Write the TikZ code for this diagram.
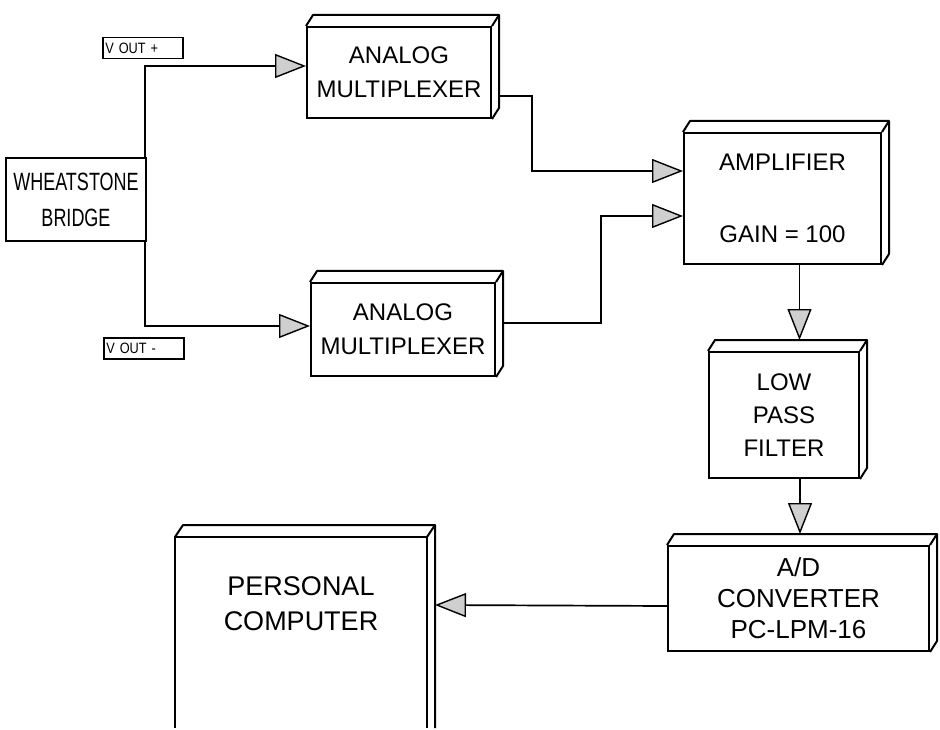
\documentclass[tikz,border=0pt]{standalone}
\usepackage{fontspec}
\setmainfont{Liberation Sans}
\newfontfamily\narrowsans[FakeStretch=0.72]{Liberation Sans}
\newfontfamily\lblsans[FakeStretch=0.85]{Liberation Sans}
\usetikzlibrary{arrows.meta,calc}
\newcommand{\boxfaces}[1]{%
  \draw[boxline] (#1.north west) -- ++(7,-11) -- ($(#1.north east)+(7,-11)$) -- ($(#1.south east)+(7,-11)$) -- (#1.south east);
  \draw[boxline] (#1.north east) -- ++(7,-11);}
\begin{document}
\begin{tikzpicture}[x=1pt,y=-1pt,
  boxline/.style={line width=2pt,line join=round},
  box/.style={draw,line width=2pt,anchor=north west,inner sep=0pt,align=center,font=\fontsize{24}{34}\selectfont},
  lbl/.style={draw,line width=1.5pt,anchor=north west,minimum height=21pt,text width=75pt,inner xsep=2.5pt,inner ysep=0pt,align=left,font=\lblsans\fontsize{15}{17}\selectfont},
  conn/.style={line width=1.7pt,-{Triangle[length=31pt,width=24pt,fill=gray!38,line width=1.4pt]}},
  wire/.style={line width=1.7pt}]
\useasboundingbox (0,0) rectangle (940,730);

% small labels
\node[lbl] (vp) at (102,37) {V OUT +};
\node[lbl] (vm) at (103,337) {V OUT -};

% bridge
\node[box,font=\narrowsans\fontsize{25}{36}\selectfont,minimum width=140pt,minimum height=83pt] (bridge) at (5,157) {WHEATSTONE\\BRIDGE};

% multiplexers
\node[box,minimum width=184pt,minimum height=91pt] (mux1) at (306,26) {ANALOG\\MULTIPLEXER};
\boxfaces{mux1}
\node[box,minimum width=184pt,minimum height=93pt] (mux2) at (310,282) {ANALOG\\MULTIPLEXER};
\boxfaces{mux2}

% amplifier
\node[box,minimum width=197pt,minimum height=131pt] (amp) at (683,132) {AMPLIFIER\\[38pt]GAIN = 100};
\boxfaces{amp}

% low pass filter
\node[box,font=\fontsize{24}{33}\selectfont,minimum width=150pt,minimum height=126pt] (lpf) at (708,351) {LOW\\PASS\\FILTER};
\boxfaces{lpf}

% A/D converter
\node[box,font=\fontsize{26}{31}\selectfont,minimum width=261pt,minimum height=105pt] (ad) at (667,545) {A/D\\CONVERTER\\PC-LPM-16};
\boxfaces{ad}

% personal computer (open at the bottom)
\coordinate (pcnw) at (175,537);
\coordinate (pcne) at (427,537);
\coordinate (pcsw) at (175,728);
\coordinate (pcse) at (427,728);
\coordinate (pcbse) at (435,728);
\draw[boxline] (pcsw) -- (pcnw) -- (pcne) -- (pcse);
\draw[boxline] (pcnw) -- ++(8,-12) -- ($(pcne)+(8,-12)$) -- (pcbse);
\draw[boxline] (pcne) -- ++(8,-12);
\node[font=\fontsize{27}{35}\selectfont,align=center,inner sep=0pt] (pc) at (301,604) {PERSONAL\\COMPUTER};
\coordinate (pcin) at (435,605);

% connectors
\draw[conn] ([xshift=-2pt]bridge.north east) |- ([yshift=6.5pt]mux1.west);
\draw[conn] ([xshift=-2pt]bridge.south east) |- ([yshift=3.5pt]mux2.west);
\draw[conn] ([xshift=7pt,yshift=-23.5pt]mux1.east) -- ++(33,0) |- ([yshift=27.5pt]amp.west);
\draw[conn] ([xshift=7pt,yshift=6.5pt]mux2.east) -- ++(98,0) |- ([yshift=-17.5pt]amp.west);
\draw[conn] ([xshift=17pt]amp.south) -- ([xshift=15.5pt,yshift=11pt]lpf.north);
\draw[conn] ([xshift=16pt]lpf.south) -- ([xshift=1.5pt,yshift=11pt]ad.north);
\draw[conn] ([yshift=-7.5pt]ad.west) -- (pcin);
\end{tikzpicture}
\end{document}
